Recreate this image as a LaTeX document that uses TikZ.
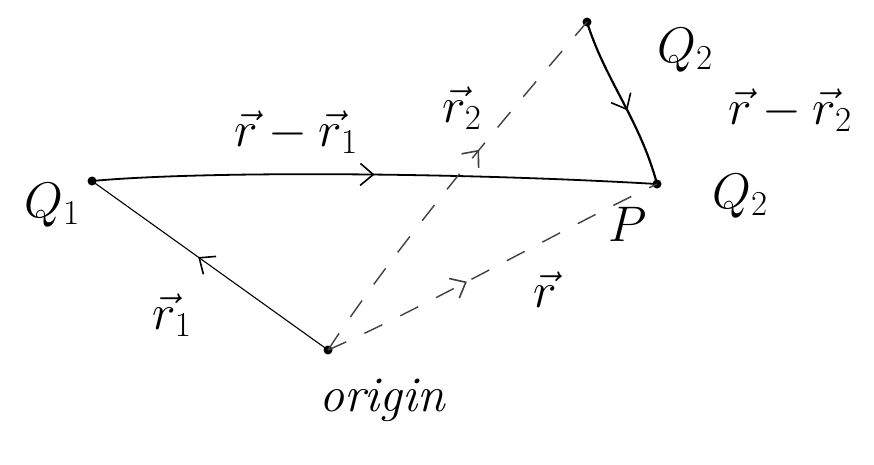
\RequirePackage{fix-cm}
\documentclass[tikz,border=0pt]{standalone}
\usetikzlibrary{arrows.meta,decorations.markings}
\begin{document}
\begin{tikzpicture}[x=1pt,y=-1pt,
  dot/.style={circle,fill=black,inner sep=0pt,minimum size=9pt},
  lbl/.style={font=\fontsize{50}{54}\selectfont,inner sep=0pt},
  midarrow/.style={postaction={decorate,decoration={markings,
      mark=at position #1 with {\arrow{Straight Barb[length=13pt,width=22pt,line width=1.6pt]}}}}},
  dashline/.style={dash pattern=on 20pt off 20pt,line width=1.4pt,black!75}
]
\useasboundingbox (0,0) rectangle (874,464);
% points
\node[dot] (Q1) at (92,181) {};
\node[dot] (P) at (657,184) {};
\node[dot] (Q2) at (587,22) {};
\node[dot] (O) at (328,350) {};
% connectors
\draw[line width=1.8pt,midarrow=0.5] (Q1.center) .. controls (200,171) and (450,172) .. (P.center);
\draw[line width=1.1pt,midarrow=0.55] (O.center) -- (Q1.center);
\draw[line width=2.2pt,midarrow=0.55] (Q2.center) .. controls (605,80) and (640,120) .. (P.center);
\draw[dashline,midarrow=0.42] (O.center) .. controls (420,310) and (560,230) .. (P.center);
\draw[dashline,midarrow=0.6] (O.center) .. controls (400,240) and (520,100) .. (Q2.center);
% labels
\node[lbl] (lQ1) at (52,205) {$Q_1$};
\node[lbl] (lP) at (628,224) {$P$};
\node[lbl] (lPQ2) at (740,196) {$Q_2$};
\node[lbl] (lQ2) at (685,50) {$Q_2$};
\node[lbl] (lrr1) at (296,132) {$\vec{r}-\vec{r}_1$};
\node[lbl] (lr2) at (462,108) {$\vec{r}_2$};
\node[lbl] (lrr2) at (790,110) {$\vec{r}-\vec{r}_2$};
\node[lbl] (lr1) at (172,315) {$\vec{r}_1$};
\node[lbl] (lr) at (545,290) {$\vec{r}$};
\node[lbl,font=\fontsize{50}{54}\selectfont\itshape] (lO) at (382,400) {origin};
\end{tikzpicture}
\end{document}
